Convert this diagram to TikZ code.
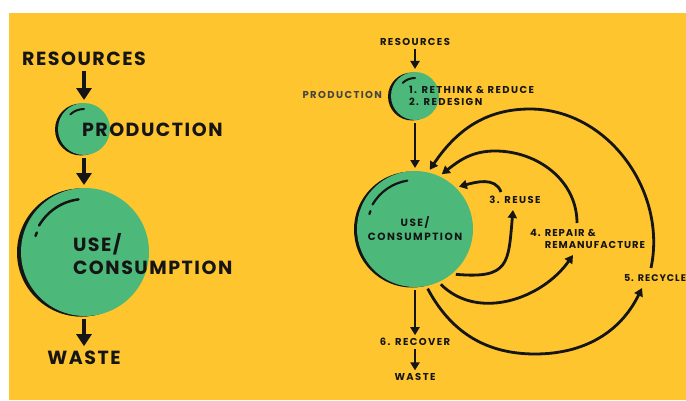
\documentclass[tikz,border=0pt]{standalone}
\usepackage{fontspec}
\setmainfont{Poppins}[LetterSpace=8]
\usetikzlibrary{arrows.meta,shadows}

\definecolor{sunny}{HTML}{FEC52E}
\definecolor{leaf}{HTML}{4CB97B}
\definecolor{ink}{HTML}{151515}
\definecolor{slate}{HTML}{444444}

\tikzset{
  bubble/.style={circle, fill=leaf, inner sep=0pt, outer sep=3pt,
    drop shadow={shadow xshift=-3pt, shadow yshift=-0.5pt, opacity=1, fill=ink}},
  bigtext/.style={font=\bfseries\fontsize{19}{23}\selectfont, text=ink, inner sep=1pt, outer sep=4pt},
  smalltext/.style={font=\bfseries\fontsize{10}{12}\selectfont\addfontfeatures{LetterSpace=14}, text=ink, inner sep=1pt, outer sep=2pt},
  bigarrow/.style={->, >={Triangle[length=12pt,width=15pt]}, line width=4.5pt, draw=ink},
  smallarrow/.style={->, >={Triangle[length=8pt,width=9pt]}, line width=2.8pt, draw=ink},
  shine/.style={draw=ink, line width=2pt, line cap=round},
}

\begin{document}
\begin{tikzpicture}[x=1pt, y=1pt]

\useasboundingbox (0,0) rectangle (686,400);
\fill[white] (0,0) rectangle (686,400);
\fill[sunny] (9,0) rectangle (686,387);

% linear economy
\node[bigtext] (res1) at (84,341) {RESOURCES};
\node[bubble, minimum size=52pt] (prod1) at (84,271) {};
\node[bubble, minimum size=128pt, drop shadow={shadow xshift=-4pt, shadow yshift=-0.5pt, opacity=1, fill=ink}] (use1) at (85,148) {};
\node[bigtext] (waste1) at (84,42) {WASTE};

\draw[shine] (prod1.center) ++(90:20) arc[start angle=90, end angle=133, radius=20];
\draw[shine, line width=2.5pt] (use1.center) ++(97:53) arc[start angle=97, end angle=150, radius=53];
\draw[shine, line width=2.5pt] (use1.center) ++(158:52) arc[start angle=158, end angle=162, radius=52];

\node[bigtext, anchor=west] (prodtxt1) at (77,270) {PRODUCTION};
\node[bigtext, anchor=west, align=left] (usetxt1) at (68,146) {USE/\\CONSUMPTION};

\draw[bigarrow] (res1) -- (prod1);
\draw[bigarrow] (prod1) -- (prod1 |- use1.north);
\draw[bigarrow] (use1.south -| waste1) -- (waste1);

% circular economy
\node[smalltext] (res2) at (415,358) {RESOURCES};
\node[bubble, minimum size=48pt] (prod2) at (415,304) {};
\node[bubble, minimum size=116pt] (use2) at (415,171) {};
\node[smalltext] (recover) at (415,58) {6. RECOVER};
\node[smalltext] (waste2) at (415,23) {WASTE};

\draw[shine] (prod2.center) ++(90:18) arc[start angle=90, end angle=133, radius=18];
\draw[shine, line width=2.2pt] (use2.center) ++(99:49) arc[start angle=99, end angle=150, radius=49];
\draw[shine, line width=2.2pt] (use2.center) ++(158:48) arc[start angle=158, end angle=162, radius=48];

\node[smalltext, text=slate, anchor=east] (prodtxt2) at (385,305) {PRODUCTION};
\node[smalltext, anchor=west, align=left] (steps) at (406,304) {1. RETHINK \& REDUCE\\2. REDESIGN};
\node[smalltext, align=center, font=\bfseries\fontsize{10.5}{14}\selectfont\addfontfeatures{LetterSpace=14}] (usetxt2) at (415,171) {USE/\\CONSUMPTION};
\node[smalltext] (reuse) at (515,200) {3. REUSE};
\node[smalltext, anchor=west, align=left, font=\bfseries\fontsize{10}{12}\selectfont\addfontfeatures{LetterSpace=10}] (repair) at (527,161) {4. REPAIR \&\\\phantom{4. }REMANUFACTURE};
\node[smalltext, anchor=west, font=\bfseries\fontsize{9.6}{12}\selectfont\addfontfeatures{LetterSpace=10}] (recycle) at (621,122) {5. RECYCLE};

\coordinate (reuse-in) at (513,190);
\coordinate (reuse-out) at (501,208);
\coordinate (repair-in) at (573,145);
\coordinate (repair-out) at (577,177);
\coordinate (repair-top) at (495,249);
\coordinate (recycle-in) at (642,112);
\coordinate (recycle-out) at (651,132);
\coordinate (recycle-top) at (530,291);
\coordinate (recycle-low) at (535,46);

\draw[smallarrow] (res2) -- (prod2);
\draw[smallarrow] (prod2) -- (use2);
\draw[smallarrow] (use2) -- (recover);
\draw[smallarrow] (recover) -- (waste2);

\draw[smallarrow] (use2.-48) to[out=-5, in=-95, looseness=1.6] (reuse-in);
\draw[smallarrow] (reuse-out) to[out=110, in=15] (use2.44);
\draw[smallarrow] (use2.-65) to[out=-45, in=-125] (repair-in);
\draw[smallarrow] (repair-out) to[out=90, in=0] (repair-top) to[out=180, in=38] (use2.64);
\draw[smallarrow] (use2.-78) to[out=-62, in=180] (recycle-low) to[out=0, in=-116] (recycle-in);
\draw[smallarrow] (recycle-out) to[out=78, in=0] (recycle-top) to[out=180, in=56] (use2.76);

\end{tikzpicture}
\end{document}
